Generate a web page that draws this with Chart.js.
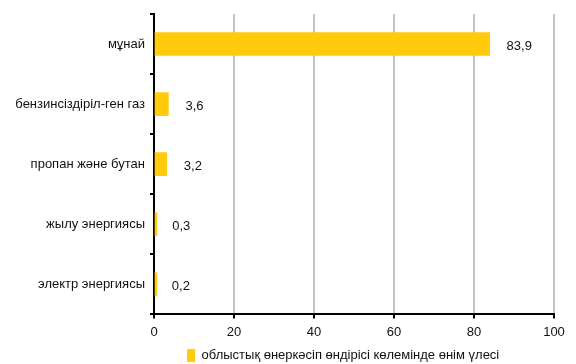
<!DOCTYPE html>
<html>
<head>
<meta charset="utf-8">
<script src="https://cdn.jsdelivr.net/npm/chart.js"></script>
<style>
  html, body { margin: 0; padding: 0; background: #fff; }
  #wrap { width: 576px; height: 364px; }
</style>
</head>
<body>
<div id="wrap"><canvas id="chart" width="576" height="364"></canvas></div>
<script>
// categories and values
const categories = ['мұнай', 'бензинсіздіріл-ген газ', 'пропан және бутан', 'жылу энергиясы', 'электр энергиясы'];
const shares = [83.9, 3.6, 3.2, 0.3, 0.2];
const seriesName = 'облыстық өнеркәсіп өндірісі көлемінде өнім үлесі';

// value labels to the right of each bar, with comma decimals
const valueLabels = {
  id: 'valueLabels',
  afterDatasetsDraw(chart) {
    const ctx = chart.ctx;
    const meta = chart.getDatasetMeta(0);
    ctx.save();
    ctx.font = '13px "Liberation Sans", Arial, sans-serif';
    ctx.fillStyle = '#111';
    ctx.textAlign = 'left';
    ctx.textBaseline = 'middle';
    meta.data.forEach((bar, i) => {
      const txt = shares[i].toFixed(1).replace('.', ',');
      const end = chart.scales.x.getPixelForValue(shares[i]);
      ctx.fillText(txt, end + 17, bar.y + 2);
    });
    ctx.restore();
  }
};

new Chart('chart', {
  type: 'bar',
  data: {
    labels: categories,
    datasets: [{
      label: seriesName,
      data: shares,
      backgroundColor: '#FFCB0C',
      barThickness: 23,
      minBarLength: 3
    }]
  },
  options: {
    responsive: false,
    animation: false,
    indexAxis: 'y',
    layout: { padding: { top: 14, right: 22, bottom: -8, left: 0 } },
    font: { family: '"Liberation Sans", Arial, sans-serif', size: 13 },
    scales: {
      x: {
        min: 0,
        max: 100,
        ticks: { stepSize: 20, color: '#111', padding: 6, font: { size: 13 } },
        grid: { color: '#c4c4c4', lineWidth: 2, tickColor: '#000', tickLength: 4, drawTicks: true },
        border: { color: '#000', width: 2 }
      },
      y: {
        afterFit(scale) { scale.width = 154; },
        ticks: { color: '#111', padding: 5, font: { size: 13 } },
        grid: { offset: true, drawOnChartArea: false, color: '#000', tickLength: 4, lineWidth: 2 },
        border: { color: '#000', width: 2 }
      }
    },
    plugins: {
      legend: {
        position: 'bottom',
        fullSize: false,
        labels: {
          boxWidth: 8, boxHeight: 13, color: '#111', padding: 3, font: { size: 13 },
          // trailing blanks nudge the centred legend a little to the left
          generateLabels(chart) {
            const items = Chart.defaults.plugins.legend.labels.generateLabels(chart);
            items.forEach(it => { it.text = it.text + '\u00A0\u00A0\u00A0\u00A0\u00A0\u00A0'; });
            return items;
          }
        }
      },
      tooltip: { enabled: false }
    }
  },
  plugins: [valueLabels]
});
</script>
</body>
</html>
